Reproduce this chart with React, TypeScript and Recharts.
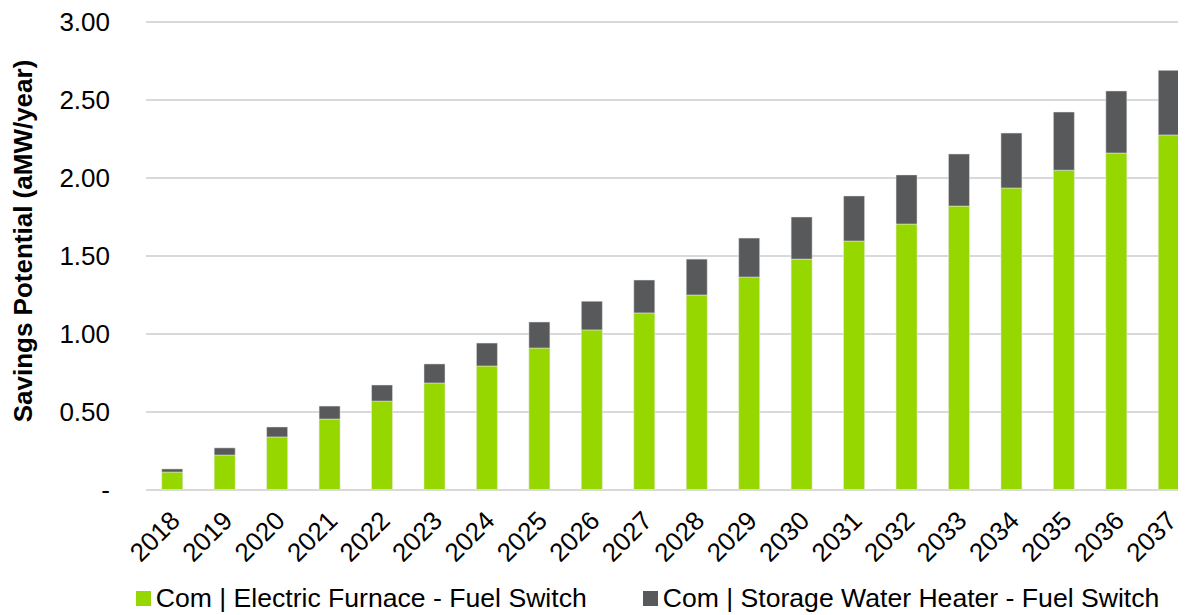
import { BarChart, Bar, XAxis, YAxis, CartesianGrid, Legend } from 'recharts'

const years = [
  '2018', '2019', '2020', '2021', '2022', '2023', '2024', '2025', '2026', '2027',
  '2028', '2029', '2030', '2031', '2032', '2033', '2034', '2035', '2036', '2037',
]

const furnace = [
  0.115, 0.224, 0.34, 0.455, 0.57, 0.686, 0.795, 0.91, 1.026, 1.135,
  1.25, 1.365, 1.48, 1.596, 1.705, 1.82, 1.936, 2.05, 2.16, 2.276,
]

const waterHeater = [
  0.02, 0.046, 0.064, 0.083, 0.103, 0.122, 0.147, 0.167, 0.184, 0.211,
  0.23, 0.25, 0.27, 0.289, 0.315, 0.334, 0.352, 0.373, 0.398, 0.414,
]

const yTicks = [0, 0.5, 1, 1.5, 2, 2.5, 3]

const seriesNames = [
  'Com | Electric Furnace - Fuel Switch',
  'Com | Storage Water Heater - Fuel Switch',
]
const colors = ['#97D700', '#58595B']

const data = years.map((year, i) => ({
  year,
  furnace: furnace[i],
  waterHeater: waterHeater[i],
}))

const font = 'Liberation Sans, Arial, sans-serif'

const tickStyle = { fontSize: 26, fontFamily: font, fill: '#000' }

function XTick({ x, y, payload }: any) {
  const tx = x + 3
  const ty = y + 18
  return (
    <text
      x={tx}
      y={ty}
      transform={`rotate(-45 ${tx} ${ty})`}
      textAnchor="end"
      dominantBaseline="central"
      style={tickStyle}
    >
      {payload.value}
    </text>
  )
}

function YLabel({ viewBox }: any) {
  const cx = 32
  const cy = viewBox.y + viewBox.height / 2 - 15
  return (
    <text
      x={cx}
      y={cy}
      transform={`rotate(-90 ${cx} ${cy})`}
      textAnchor="middle"
      style={{ fontSize: 26, fontWeight: 'bold', fontFamily: font, fill: '#000' }}
    >
      Savings Potential (aMW/year)
    </text>
  )
}

function LegendBox() {
  return (
    <div
      style={{
        display: 'flex',
        justifyContent: 'center',
        alignItems: 'center',
        gap: 56,
        height: 30,
        fontFamily: font,
        fontSize: 26.6,
        color: '#000',
        paddingLeft: 100,
      }}
    >
      {seriesNames.map((name, i) => (
        <div key={name} style={{ display: 'flex', alignItems: 'center' }}>
          <span
            style={{
              display: 'inline-block',
              width: 15,
              height: 15,
              background: colors[i],
              marginRight: 5,
            }}
          />
          <span>{name}</span>
        </div>
      ))}
    </div>
  )
}

export default function App() {
  return (
    <div style={{ margin: '-8px 0 0 -8px', width: 1186, height: 615, overflow: 'hidden', background: '#fff' }}>
      <BarChart
        width={1200}
        height={615}
        data={data}
        barCategoryGap="30%"
        margin={{ top: 22, right: 5, bottom: 2, left: 0 }}
      >
        <CartesianGrid stroke="#d9d9d9" strokeWidth={2} vertical={false} />
        <XAxis
          dataKey="year"
          height={93}
          tick={<XTick />}
          tickLine={false}
          axisLine={{ stroke: '#d9d9d9', strokeWidth: 2 }}
          interval={0}
        />
        <YAxis
          width={146}
          domain={[0, 3]}
          ticks={yTicks}
          tick={tickStyle}
          tickLine={false}
          axisLine={false}
          tickMargin={30}
          tickFormatter={(v: number) => (v === 0 ? '-' : v.toFixed(2))}
          label={<YLabel />}
        />
        <Legend verticalAlign="bottom" height={30} content={<LegendBox />} />
        <Bar
          dataKey="furnace"
          name={seriesNames[0]}
          stackId="a"
          fill={colors[0]}
          stroke="#e8e8e8"
          strokeWidth={0.5}
          isAnimationActive={false}
        />
        <Bar
          dataKey="waterHeater"
          name={seriesNames[1]}
          stackId="a"
          fill={colors[1]}
          stroke="#e8e8e8"
          strokeWidth={0.5}
          isAnimationActive={false}
        />
      </BarChart>
    </div>
  )
}
